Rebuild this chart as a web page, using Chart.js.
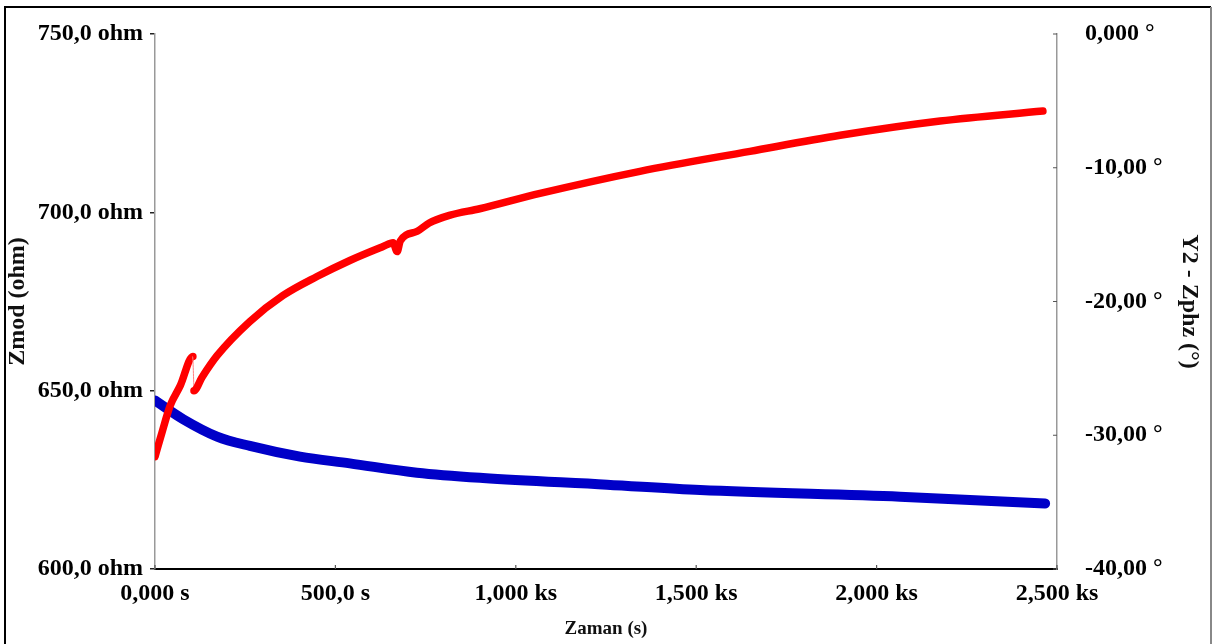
<!DOCTYPE html>
<html>
<head>
<meta charset="utf-8">
<script src="https://cdn.jsdelivr.net/npm/chart.js@4.4.0/dist/chart.umd.min.js"></script>
<style>
  body { margin: 0; background: #fff; }
  canvas { display: block; }
</style>
</head>
<body>
<canvas id="c" width="1216" height="644"></canvas>
<script>
// Zmod (ohm) vs time (s)
const zmodTime   = [0, 20, 42, 70, 105, 108, 130, 172, 263, 355, 449, 540, 632, 660, 671, 680, 727, 760, 818, 900, 1067, 1344, 1649, 1899, 2176, 2461];
const zmodValues = [631.5, 638.5, 645.8, 651.4, 659.6, 650.0, 653.7, 659.8, 669.4, 676.7, 682.0, 686.5, 690.4, 691.5, 689.0, 692.0, 694.7, 697.0, 699.2, 701.0, 705.3, 711.5, 717.1, 721.6, 725.6, 728.4];

// Zphz (deg) vs time (s)
const phaseTime   = [0, 78, 172, 263, 402, 540, 726, 909, 1253, 1511, 2065, 2467];
const phaseValues = [-27.4, -28.8, -30.1, -30.8, -31.6, -32.1, -32.8, -33.2, -33.7, -34.1, -34.6, -35.1];

const xTickLabels  = ['0,000 s', '500,0 s', '1,000 ks', '1,500 ks', '2,000 ks', '2,500 ks'];
const yTickLabels  = ['600,0 ohm', '650,0 ohm', '700,0 ohm', '750,0 ohm'];
const y2TickLabels = ['-40,00 °', '-30,00 °', '-20,00 °', '-10,00 °', '0,000 °'];

const tickFont  = { family: 'Liberation Serif', size: 24, weight: 'bold' };
const titleFont = { family: 'Liberation Serif', size: 19, weight: 'bold' };
const sideTitleFont = { family: 'Liberation Serif', size: 24, weight: 'bold' };

const framePlugin = {
  id: 'frame',
  beforeDraw(chart) {
    const ctx = chart.ctx;
    ctx.save();
    ctx.fillStyle = '#fff';
    ctx.fillRect(0, 0, chart.width, chart.height);
    ctx.strokeStyle = '#000';
    ctx.lineWidth = 2;
    ctx.beginPath();
    ctx.moveTo(5, chart.height + 2);
    ctx.lineTo(5, 7);
    ctx.lineTo(1211, 7);
    ctx.stroke();
    ctx.strokeStyle = '#888';
    ctx.beginPath();
    ctx.moveTo(1211, 7);
    ctx.lineTo(1211, chart.height + 2);
    ctx.stroke();
    ctx.restore();
  },
  afterDraw(chart) {
    // small inside tick marks on the bottom and right axes
    const ctx = chart.ctx, a = chart.chartArea;
    const sx = chart.scales.x, s2 = chart.scales.y2;
    ctx.save();
    ctx.strokeStyle = '#555';
    ctx.lineWidth = 1.2;
    ctx.beginPath();
    sx.ticks.forEach(t => {
      const px = sx.getPixelForValue(t.value);
      ctx.moveTo(px, a.bottom);
      ctx.lineTo(px, a.bottom - 4);
    });
    s2.ticks.forEach(t => {
      const py = s2.getPixelForValue(t.value);
      ctx.moveTo(a.right, py);
      ctx.lineTo(a.right - 4, py);
    });
    ctx.stroke();
    ctx.restore();
  }
};

new Chart(document.getElementById('c').getContext('2d'), {
  type: 'line',
  data: {
    datasets: [
      {
        label: 'Zmod',
        data: zmodTime.map((t, i) => ({ x: t, y: zmodValues[i] })),
        yAxisID: 'y',
        borderColor: '#ff0000',
        borderWidth: 7.5,
        borderCapStyle: 'round',
        borderJoinStyle: 'round',
        pointRadius: 0,
        cubicInterpolationMode: 'monotone',
        segment: {
          borderWidth: ctx => (ctx.p1.parsed.y < ctx.p0.parsed.y - 5 ? 1 : 7.5),
          borderColor: ctx => (ctx.p1.parsed.y < ctx.p0.parsed.y - 5 ? '#ff8080' : '#ff0000')
        }
      },
      {
        label: 'Zphz',
        data: phaseTime.map((t, i) => ({ x: t, y: phaseValues[i] })),
        yAxisID: 'y2',
        borderColor: '#0000c8',
        borderWidth: 10,
        borderCapStyle: 'round',
        borderJoinStyle: 'round',
        pointRadius: 0,
        cubicInterpolationMode: 'monotone'
      }
    ]
  },
  options: {
    responsive: false,
    animation: false,
    layout: { padding: { left: 3, right: 12, top: 34, bottom: 4 } },
    plugins: { legend: { display: false }, tooltip: { enabled: false } },
    scales: {
      x: {
        type: 'linear',
        min: 0, max: 2500,
        afterFit: s => { s.height = 71; },
        ticks: {
          stepSize: 500, color: '#000', font: tickFont, padding: 10, maxRotation: 0,
          callback: (v, i) => xTickLabels[i]
        },
        grid: { drawOnChartArea: false, drawTicks: false },
        border: { color: '#000', width: 2 },
        title: { display: true, text: 'Zaman (s)', color: '#111', font: titleFont, padding: 0 }
      },
      y: {
        position: 'left',
        min: 600, max: 750,
        afterFit: s => { s.width = 152; s.paddingTop = 0; s.paddingBottom = 0; },
        ticks: {
          stepSize: 50, color: '#000', font: tickFont, padding: 7,
          callback: (v, i) => yTickLabels[i]
        },
        grid: { drawOnChartArea: false, tickLength: 5, color: '#222', lineWidth: 1.5 },
        border: { color: '#999', width: 1.5 },
        title: { display: true, text: 'Zmod (ohm)', color: '#111', font: sideTitleFont, padding: 0 }
      },
      y2: {
        position: 'right',
        min: -40, max: 0,
        afterFit: s => { s.width = 147; s.paddingTop = 0; s.paddingBottom = 0; },
        ticks: {
          stepSize: 10, color: '#000', font: tickFont, padding: 28,
          callback: (v, i) => y2TickLabels[i]
        },
        grid: { drawOnChartArea: false, drawTicks: false },
        border: { color: '#999', width: 1.5 },
        title: { display: true, text: 'Y2 - Zphz (°)', color: '#111', font: sideTitleFont, padding: 0 }
      }
    }
  },
  plugins: [framePlugin]
});
</script>
</body>
</html>
